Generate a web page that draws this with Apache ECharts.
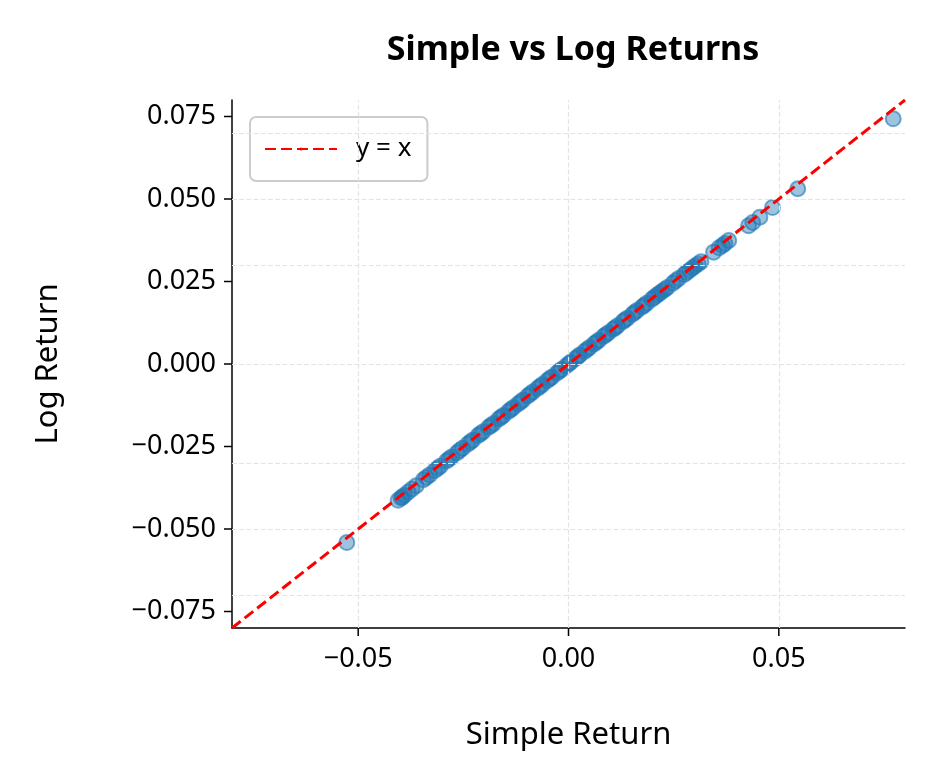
<!DOCTYPE html><html><head><meta charset="utf-8"><script src="https://cdn.jsdelivr.net/npm/echarts@6/dist/echarts.min.js"></script></head><body style="margin:0"><div id="c" style="width:934px;height:784px"></div><script>
const simpleReturns=[-0.0527,-0.0405,-0.0398,-0.0390,-0.0381,-0.0362,-0.0345,-0.0330,-0.0318,-0.0305,-0.0290,-0.0278,-0.0265,-0.0252,-0.0240,-0.0228,-0.0215,-0.0203,-0.0190,-0.0178,-0.0166,-0.0155,-0.0143,-0.0131,-0.0120,-0.0108,-0.0097,-0.0085,-0.0074,-0.0062,-0.0051,-0.0040,-0.0028,-0.0017,-0.0006,0.0005,0.0016,0.0027,0.0038,0.0050,0.0061,0.0072,0.0083,0.0095,0.0106,0.0117,0.0129,0.0140,0.0152,0.0163,0.0175,0.0186,0.0198,0.0210,0.0222,0.0235,0.0248,0.0262,0.0275,0.0288,0.0301,0.0315,0.0345,0.0358,0.0372,0.0381,0.0428,0.0438,0.0455,0.0485,0.0545,0.0772,
 -0.0395,-0.0372,-0.0338,-0.0311,-0.0284,-0.0259,-0.0233,-0.0209,-0.0184,-0.0160,-0.0137,-0.0114,-0.0091,-0.0068,-0.0045,-0.0022,0.0001,0.0022,0.0044,0.0067,0.0089,0.0111,0.0134,0.0157,0.0180,0.0204,0.0216,0.0229,0.0255,0.0281,0.0295,0.0308,0.0366];
const logReturns=[-0.0541,-0.0413,-0.0406,-0.0398,-0.0388,-0.0369,-0.0351,-0.0336,-0.0323,-0.0310,-0.0294,-0.0282,-0.0269,-0.0255,-0.0243,-0.0231,-0.0217,-0.0205,-0.0192,-0.0180,-0.0167,-0.0156,-0.0144,-0.0132,-0.0121,-0.0109,-0.0097,-0.0085,-0.0074,-0.0062,-0.0051,-0.0040,-0.0028,-0.0017,-0.0006,0.0005,0.0016,0.0027,0.0038,0.0050,0.0061,0.0072,0.0083,0.0095,0.0105,0.0116,0.0128,0.0139,0.0151,0.0162,0.0173,0.0184,0.0196,0.0208,0.0220,0.0232,0.0245,0.0259,0.0271,0.0284,0.0297,0.0310,0.0339,0.0352,0.0365,0.0374,0.0419,0.0429,0.0445,0.0474,0.0531,0.0743,
 -0.0403,-0.0379,-0.0344,-0.0316,-0.0288,-0.0262,-0.0236,-0.0211,-0.0186,-0.0161,-0.0138,-0.0115,-0.0091,-0.0068,-0.0045,-0.0022,0.0001,0.0022,0.0044,0.0067,0.0089,0.0110,0.0133,0.0156,0.0178,0.0202,0.0214,0.0226,0.0252,0.0277,0.0291,0.0303,0.0359];
const xTicks=[-0.05,0,0.05];
const yTicks=[-0.075,-0.05,-0.025,0,0.025,0.05,0.075];
const lineXY=[-0.08,0.08];
const F='"Noto Sans", sans-serif';
const fmtX=v=>v.toFixed(2).replace('-','\u2212');
const fmtY=v=>v.toFixed(3).replace('-','\u2212');
const near=(v,arr)=>arr.some(t=>Math.abs(t-v)<1e-6);
const grid={type:'dashed',color:'#e3e3e3',width:1.2};
const tickData=xTicks.map(v=>[v,0]).concat(yTicks.map(v=>[v,1]));
const chart=echarts.init(document.getElementById('c'));
chart.setOption({
 animation:false,
 title:{text:'Simple vs Log Returns',left:568,top:28,textAlign:'center',textStyle:{fontFamily:F,fontSize:34,fontWeight:'bold',color:'#000'}},
 legend:{left:250,top:117,data:[{name:'y = x'}],itemWidth:72,itemHeight:4,itemGap:10,padding:[19,16,19,14],borderColor:'#ccc',borderWidth:2,borderRadius:6,textStyle:{fontFamily:F,fontSize:26,color:'#000',padding:[0,0,0,14]}},
 grid:{left:232,right:29,top:100,bottom:156},
 xAxis:{type:'value',min:-0.08,max:0.08,interval:0.01,name:'Simple Return',nameLocation:'middle',nameGap:92,nameTextStyle:{fontFamily:F,fontSize:31,color:'#000'},
  axisLine:{onZero:false,lineStyle:{color:'#000',width:1.5}},axisTick:{show:false},splitLine:{show:false},
  axisLabel:{fontFamily:F,fontSize:27,color:'#000',margin:18,formatter:v=>near(v,xTicks)?fmtX(v):''}},
 yAxis:{type:'value',min:-0.08,max:0.08,interval:0.005,name:'Log Return',nameLocation:'middle',nameGap:168,nameTextStyle:{fontFamily:F,fontSize:31,color:'#000'},
  axisLine:{onZero:false,lineStyle:{color:'#000',width:1.5}},axisTick:{show:false},splitLine:{show:false},
  axisLabel:{fontFamily:F,fontSize:27,color:'#000',margin:16,formatter:v=>near(v,yTicks)?fmtY(v):''}},
 series:[
  {type:'line',name:'gridlines',data:[],silent:true,markLine:{silent:true,symbol:'none',label:{show:false},lineStyle:grid,
   data:xTicks.map(v=>({xAxis:v})).concat(yTicks.map(v=>({yAxis:v})))}},
  {type:'custom',name:'ticks',silent:true,clip:false,data:tickData,
   renderItem:(p,api)=>{const v=api.value(0);const isX=api.value(1)===0;
     if(isX){const pt=api.coord([v,-0.08]);return {type:'line',shape:{x1:pt[0],y1:pt[1],x2:pt[0],y2:pt[1]+8},style:{stroke:'#000',lineWidth:1.5}};}
     const pt=api.coord([-0.08,v]);return {type:'line',shape:{x1:pt[0]-8,y1:pt[1],x2:pt[0],y2:pt[1]},style:{stroke:'#000',lineWidth:1.5}};}},
  {type:'scatter',name:'points',data:simpleReturns.map((x,i)=>[x,logReturns[i]]),symbolSize:15,
   itemStyle:{color:'rgba(31,119,180,0.55)',borderColor:'rgba(31,119,180,0.75)',borderWidth:2}},
  {type:'line',name:'y = x',data:lineXY.map(v=>[v,v]),symbol:'none',z:5,lineStyle:{color:'#ff0000',width:3,type:[11,5]},itemStyle:{color:'#ff0000'}}
 ]
});
</script></body></html>
